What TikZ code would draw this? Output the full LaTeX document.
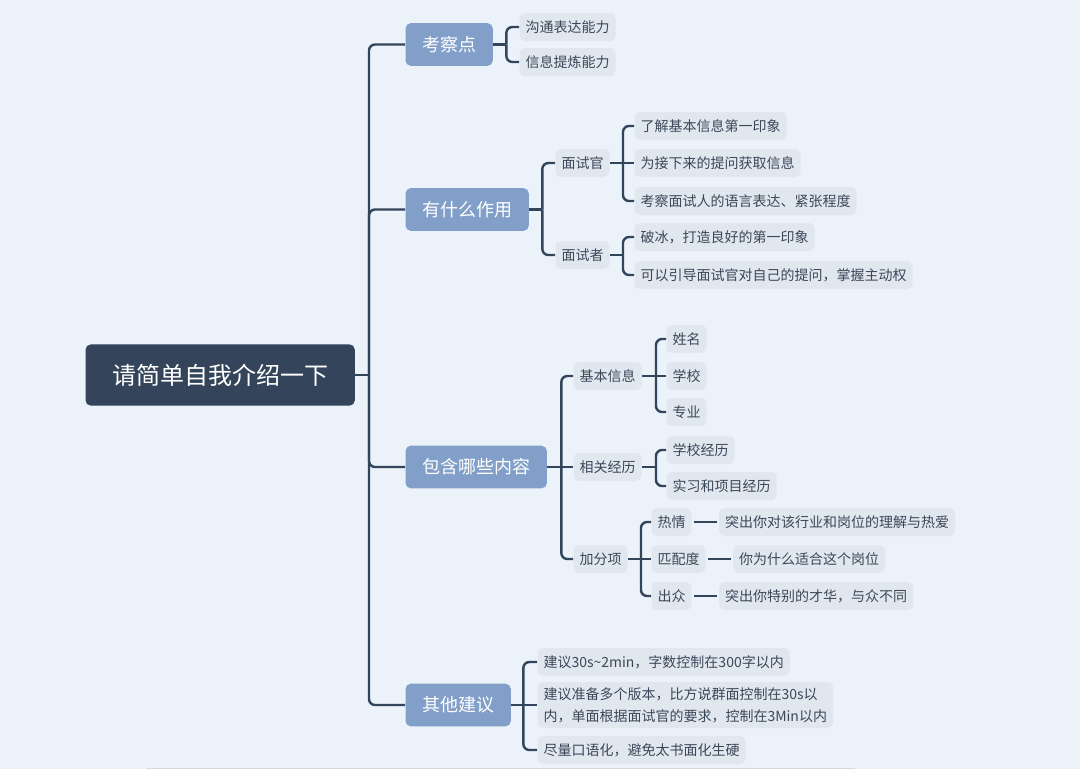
\documentclass[tikz,border=0pt]{standalone}
\usepackage{fontspec}
\setmainfont{Noto Sans CJK SC}
\usetikzlibrary{positioning}

\definecolor{bgc}{HTML}{EBF2F9}
\definecolor{rootc}{HTML}{34445A}
\definecolor{topicc}{HTML}{819FC8}
\definecolor{leafc}{HTML}{E1E7EF}
\definecolor{inkc}{HTML}{3B4859}
\definecolor{linec}{HTML}{33455A}

\tikzset{every picture/.style={line width=0.75pt}}
\tikzset{
  rootnode/.style={fill=rootc,text=white,rounded corners=4pt,minimum height=46pt,inner xsep=20pt,font=\fontsize{18}{22}\selectfont},
  topic/.style={fill=topicc,text=white,rounded corners=4pt,minimum height=32pt,inner xsep=12.5pt,font=\fontsize{13.5}{16}\selectfont},
  leaf/.style={fill=leafc,text=inkc,rounded corners=4pt,minimum height=21pt,inner xsep=4.5pt,inner ysep=3pt,font=\fontsize{10.5}{16.5}\selectfont},
  branch/.style={draw=linec,line width=1.8pt,rounded corners=4.5pt},
  stub/.style={draw=linec,line width=1.5pt,shorten <=1.5pt,shorten >=1.5pt},
}

\begin{document}
\begin{tikzpicture}[x=0.75pt,y=0.75pt,yscale=-1,xscale=1]
%Background
\fill[bgc] (0,0) rectangle (1080,769);
\useasboundingbox (0,0) rectangle (1080,769);
\draw[gray!30,line width=0.75pt] (146,768.5) -- (855,768.5);

%Root and topics
\node[rootnode,anchor=west] (root) at (85,375) {请简单自我介绍一下};
\node[topic,anchor=west] (kao) at (405,44.5) {考察点};
\node[topic,anchor=west] (zuo) at (405,209.5) {有什么作用};
\node[topic,anchor=west] (nei) at (405,467) {包含哪些内容};
\node[topic,anchor=west] (jian) at (405,705) {其他建议};

% Text Node
\node[leaf,anchor=west] (kao1) at (519,27) {沟通表达能力};
\node[leaf,anchor=west] (kao2) at (519,62) {信息提炼能力};
% Text Node
\node[leaf,anchor=west] (msg) at (555,163) {面试官};
\node[leaf,anchor=west] (msz) at (555,255) {面试者};
\node[leaf,anchor=west] (msg1) at (634,126) {了解基本信息第一印象};
\node[leaf,anchor=west] (msg2) at (634,163) {为接下来的提问获取信息};
\node[leaf,anchor=west] (msg3) at (634,201) {考察面试人的语言表达、紧张程度};
\node[leaf,anchor=west] (msz1) at (634,237) {破冰，打造良好的第一印象};
\node[leaf,anchor=west] (msz2) at (634,275) {可以引导面试官对自己的提问，掌握主动权};
% Text Node
\node[leaf,anchor=west] (jbxx) at (573,376) {基本信息};
\node[leaf,anchor=west] (xgjl) at (573,467) {相关经历};
\node[leaf,anchor=west] (jfx) at (573,559) {加分项};
\node[leaf,anchor=west] (jb1) at (666,339) {姓名};
\node[leaf,anchor=west] (jb2) at (666,376) {学校};
\node[leaf,anchor=west] (jb3) at (666,412) {专业};
\node[leaf,anchor=west] (xg1) at (666,450) {学校经历};
\node[leaf,anchor=west] (xg2) at (666,486) {实习和项目经历};
\node[leaf,anchor=west] (rq) at (651,522) {热情};
\node[leaf,anchor=west] (ppd) at (651,559) {匹配度};
\node[leaf,anchor=west] (cz) at (651,596) {出众};
\node[leaf,right=20pt of rq] (rqd) {突出你对该行业和岗位的理解与热爱};
\node[leaf,right=20pt of ppd] (ppdd) {你为什么适合这个岗位};
\node[leaf,right=20pt of cz] (czd) {突出你特别的才华，与众不同};
% Text Node
\node[leaf,anchor=west] (jy1) at (537,662) {建议30s\textasciitilde2min，字数控制在300字以内};
\node[leaf,anchor=west,align=left,inner ysep=4pt] (jy2) at (537,705) {建议准备多个版本，比方说群面控制在30s以\\内，单面根据面试官的要求，控制在3Min以内};
\node[leaf,anchor=west] (jy3) at (537,750) {尽量口语化，避免太书面化生硬};

%Trunk
\draw[branch] (root.east) -- (369,375) coordinate (trunk);
\foreach \t in {kao,zuo,nei,jian}
  \draw[branch] (trunk) |- (\t.west);

%Branches
\draw[branch] (kao.east) -- ++(13,0) coordinate (kaoj);
\foreach \c in {kao1,kao2} \draw[branch] (kaoj) |- (\c.west);

\draw[branch] (zuo.east) -- ++(13,0) coordinate (zuoj);
\foreach \c in {msg,msz} \draw[branch] (zuoj) |- (\c.west);
\draw[branch] (msg.east) -- (msg2.west);
\path (msg.east) -- ++(13,0) coordinate (msgj);
\foreach \c in {msg1,msg3} \draw[branch] (msgj) |- (\c.west);
\draw[branch] (msz.east) -- ++(13,0) coordinate (mszj);
\foreach \c in {msz1,msz2} \draw[branch] (mszj) |- (\c.west);

\draw[branch] (nei.east) -- (xgjl.west);
\path (nei.east) -- ++(14,0) coordinate (neij);
\foreach \c in {jbxx,jfx} \draw[branch] (neij) |- (\c.west);
\draw[branch] (jbxx.east) -- (jb2.west);
\path (jbxx.east) -- ++(14,0) coordinate (jbj);
\foreach \c in {jb1,jb3} \draw[branch] (jbj) |- (\c.west);
\draw[branch] (xgjl.east) -- ++(14,0) coordinate (xgj);
\foreach \c in {xg1,xg2} \draw[branch] (xgj) |- (\c.west);
\draw[branch] (jfx.east) -- (ppd.west);
\path (jfx.east) -- ++(13,0) coordinate (jfj);
\foreach \c in {rq,cz} \draw[branch] (jfj) |- (\c.west);
\draw[stub] (rq) -- (rqd);
\draw[stub] (ppd) -- (ppdd);
\draw[stub] (cz) -- (czd);

\draw[branch] (jian.east) -- (jy2.west);
\path (jian.east) -- ++(12,0) coordinate (jianj);
\foreach \c in {jy1,jy3} \draw[branch] (jianj) |- (\c.west);

\end{tikzpicture}
\end{document}
